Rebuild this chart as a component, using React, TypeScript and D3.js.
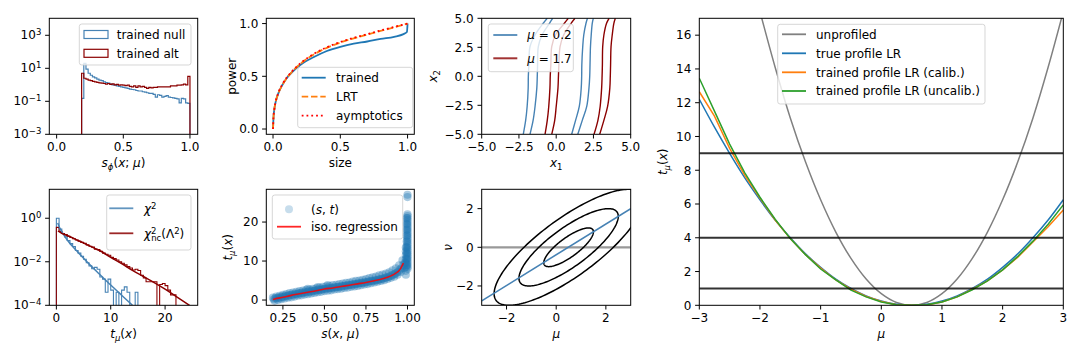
import React from "react";
import * as d3 from "d3";

const FONT = "'DejaVu Sans', sans-serif";
const W = 1080;
const H = 360;

// ---------- data ----------
// panel 1: classifier output histograms (50 bins from 0.1875 to 1.0)
const sBinStart = 0.1875;
const sBinWidth = 0.01625;
const nullCounts = [0.15, 20, 9, 5, 3.8, 3.0, 2.6, 2.2, 1.9, 1.8, 1.5, 1.35, 1.25, 1.1, 1.0, 0.95, 0.85, 0.8, 0.75, 0.7, 0.65, 0.6, 0.55, 0.52, 0.5, 0.45, 0.42, 0.42, 0.38, 0.36, 0.33, 0.3, 0.3, 0.26, 0.18, 0.25, 0.23, 0.18, 0.2, 0.22, 0.18, 0.17, 0.16, 0.15, 0.14, 0.08, 0.15, 0.14, 0.08, 0.075];
const altCounts = [5.0, 2.5, 2.2, 1.9, 1.8, 1.6, 1.5, 1.4, 1.3, 1.25, 1.2, 1.1, 1.2, 1.05, 1.15, 1.0, 1.05, 0.95, 1.0, 0.95, 0.9, 0.95, 0.8, 0.75, 0.85, 0.7, 0.85, 0.75, 0.8, 0.7, 0.6, 0.7, 0.65, 0.7, 0.7, 0.75, 0.75, 0.75, 0.75, 0.75, 0.75, 0.85, 0.85, 0.85, 0.95, 0.95, 1.0, 1.1, 1.0, 3.2];

// panel 2: power vs size
const sizeTrained = [0, 0.003, 0.01, 0.02, 0.04, 0.07, 0.1, 0.15, 0.2, 0.3, 0.4, 0.5, 0.6, 0.7, 0.8, 0.9, 0.97, 0.995, 1.0];
const powerTrained = [0, 0.1, 0.19, 0.26, 0.34, 0.42, 0.48, 0.55, 0.605, 0.68, 0.74, 0.78, 0.81, 0.83, 0.855, 0.875, 0.9, 0.92, 1.0];
const sizeLRT = [0, 0.003, 0.01, 0.02, 0.04, 0.07, 0.1, 0.15, 0.2, 0.3, 0.4, 0.5, 0.6, 0.7, 0.8, 0.9, 1.0];
const powerLRT = [0, 0.1, 0.19, 0.26, 0.34, 0.42, 0.48, 0.555, 0.615, 0.705, 0.77, 0.82, 0.86, 0.895, 0.93, 0.965, 1.0];
const powerAsym = [0, 0.1, 0.19, 0.26, 0.345, 0.425, 0.485, 0.56, 0.62, 0.71, 0.775, 0.825, 0.865, 0.9, 0.935, 0.968, 1.0];

// panel 3: decision contours in (x1, x2)
const contourY = [-5, -3.8, -2.6, -1.0, 0, 1.0, 2.55, 3.56, 4.57, 5];
const contoursLow = [
  [-2.21, -2.05, -1.95, -1.88, -1.87, -1.83, -1.76, -1.42, -0.87, -0.6],
  [-1.76, -1.55, -1.42, -1.3, -1.27, -1.25, -1.2, -0.95, -0.45, -0.24],
  [1.04, 1.3, 1.55, 1.68, 1.71, 1.72, 1.78, 1.85, 2.0, 2.1],
  [1.45, 1.75, 2.05, 2.2, 2.25, 2.27, 2.3, 2.35, 2.42, 2.49],
];
const contoursHigh = [
  [-0.75, -0.6, -0.5, -0.42, -0.4, -0.36, -0.3, -0.05, 0.55, 0.81],
  [-0.3, -0.1, 0.0, 0.12, 0.15, 0.18, 0.26, 0.5, 1.0, 1.26],
  [2.54, 2.8, 2.95, 3.05, 3.08, 3.1, 3.12, 3.2, 3.38, 3.55],
  [2.92, 3.2, 3.45, 3.6, 3.63, 3.65, 3.68, 3.76, 3.87, 3.97],
];

// panel 4: test statistic histograms (0.5 wide bins from 0) and densities
const tBinWidth = 0.5;
const chiHist = [1.0, 0.32, 0.2, 0.14, 0.095, 0.068, 0.05, 0.033, 0.025, 0.018, 0.013, 0.009, 0.0065, 0.0048, 0.0055, 0.0045, 0.002, 0.0016, 0.0004, 0.0016, 0.0005, 0, 0.0004, 0, 0.0005, 0.0007, 0.0004, 0, 0, 0.0004];
const ncHist = [0.38, 0.25, 0.2, 0.18, 0.15, 0.13, 0.115, 0.1, 0.088, 0.078, 0.07, 0.06, 0.052, 0.047, 0.038, 0.036, 0.03, 0.025, 0.022, 0.02, 0.016, 0.014, 0.012, 0.01, 0.0085, 0.0072, 0.006, 0.0052, 0.0042, 0.0045, 0.004, 0.0024, 0.0018, 0.0012, 0.0012, 0.0012, 0.0012, 0, 0.0009, 0.001, 0.0008, 0.0005, 0.0003, 0.0003];
const chiT = [0.25, 0.5, 1, 2, 4, 6, 8, 10, 12, 14];
const chiPdf = [0.6, 0.42, 0.24, 0.1, 0.027, 0.008, 0.0026, 0.00085, 0.00029, 0.0001];
const ncT = [0.3, 1, 2, 4, 6, 8, 10, 12, 14, 16, 18, 20, 22, 24.5];
const ncPdf = [0.26, 0.2, 0.16, 0.095, 0.055, 0.032, 0.016, 0.0082, 0.004, 0.0021, 0.0011, 0.00055, 0.00026, 0.0001];

// panel 5: (s, t) pairs and isotonic regression
const scatterS = [
  0.19, 0.21, 0.23, 0.25, 0.27, 0.29, 0.31, 0.33, 0.35, 0.37, 0.39, 0.41, 0.43, 0.45, 0.47, 0.49, 0.51, 0.53, 0.55, 0.57, 0.59, 0.61, 0.63, 0.65, 0.67, 0.69, 0.71, 0.73, 0.75, 0.77, 0.79, 0.81, 0.83, 0.85, 0.87, 0.89, 0.91, 0.93, 0.95, 0.97,
  0.20, 0.22, 0.24, 0.26, 0.28, 0.30, 0.32, 0.34, 0.36, 0.38, 0.40, 0.42, 0.44, 0.46, 0.48, 0.50, 0.52, 0.54, 0.56, 0.58, 0.60, 0.62, 0.64, 0.66, 0.68, 0.70, 0.72, 0.74, 0.76, 0.78, 0.80, 0.82, 0.84, 0.86, 0.88, 0.90, 0.92, 0.94, 0.96, 0.98,
  0.195, 0.215, 0.235, 0.255, 0.275, 0.295, 0.315, 0.335, 0.355, 0.375, 0.395, 0.415, 0.435, 0.455, 0.475, 0.495, 0.515, 0.535, 0.555, 0.575, 0.595, 0.615, 0.635, 0.655, 0.675, 0.695, 0.715, 0.735, 0.755, 0.775, 0.795, 0.815, 0.835, 0.855, 0.875, 0.895, 0.915, 0.935, 0.955, 0.975,
  0.205, 0.225, 0.245, 0.265, 0.285, 0.305, 0.325, 0.345, 0.365, 0.385, 0.405, 0.425, 0.445, 0.465, 0.485, 0.505, 0.525, 0.545, 0.565, 0.585, 0.605, 0.625, 0.645, 0.665, 0.685, 0.705, 0.725, 0.745, 0.765, 0.785, 0.805, 0.825, 0.845, 0.865, 0.885, 0.905, 0.925, 0.945, 0.965, 0.985,
  0.99, 0.99, 0.99, 0.99, 0.99, 0.99, 0.99, 0.99,
  0.995, 0.995, 0.995, 0.995, 0.995, 0.995, 0.995, 0.995, 0.995,
  1.0, 1.0, 1.0, 1.0, 1.0, 1.0, 1.0, 1.0, 1.0, 1.0, 1.0, 1.0, 1.0, 1.0, 1.0, 1.0, 1.0,
  1.0, 1.0, 1.0, 1.0, 1.0, 1.0, 1.0, 1.0, 1.0, 1.0, 1.0, 1.0, 1.0, 1.0,
  0.4, 0.52, 0.46,
];
const scatterT = [
  0.6, 0.9, 1.1, 1.3, 1.5, 1.8, 1.9, 2.1, 2.3, 2.4, 2.6, 2.7, 2.9, 3.0, 3.2, 3.4, 3.5, 3.6, 3.8, 3.9, 4.1, 4.2, 4.4, 4.5, 4.7, 4.9, 5.0, 5.2, 5.4, 5.6, 5.8, 6.0, 6.3, 6.5, 6.8, 7.1, 7.6, 8.1, 8.9, 10.2,
  -0.2, 0.0, 0.2, 0.4, 0.6, 0.7, 0.9, 1.1, 1.2, 1.4, 1.5, 1.7, 1.8, 2.0, 2.1, 2.3, 2.4, 2.5, 2.7, 2.8, 2.9, 3.1, 3.2, 3.4, 3.5, 3.6, 3.8, 4.0, 4.1, 4.3, 4.5, 4.7, 4.9, 5.1, 5.4, 5.7, 6.0, 6.5, 7.2, 8.2,
  0.2, 0.45, 0.6, 0.8, 1.0, 1.2, 1.35, 1.5, 1.7, 1.85, 2.0, 2.1, 2.3, 2.45, 2.6, 2.8, 2.9, 3.0, 3.15, 3.3, 3.4, 3.55, 3.7, 3.85, 4.0, 4.15, 4.3, 4.45, 4.6, 4.8, 4.95, 5.1, 5.3, 5.5, 5.8, 6.1, 6.5, 7.0, 7.8, 9.0,
  0.5, 0.65, 0.85, 1.05, 1.25, 1.4, 1.6, 1.75, 1.9, 2.05, 2.2, 2.35, 2.5, 2.65, 2.75, 2.9, 3.05, 3.15, 3.3, 3.4, 3.55, 3.7, 3.85, 3.95, 4.1, 4.25, 4.4, 4.55, 4.75, 4.9, 5.05, 5.25, 5.45, 5.7, 5.95, 6.3, 6.7, 7.3, 8.2, 9.6,
  6.5, 7.5, 8.5, 9.5, 10.5, 11.5, 12.5, 13.5,
  9, 10.5, 12, 13.5, 15, 16.5, 18, 19.5, 21,
  8, 9, 10, 11, 12, 13, 14, 15, 16, 17, 18, 19, 20, 21, 22, 26.4, 27.0,
  8.5, 9.5, 10.5, 11.5, 12.5, 13.5, 14.5, 15.5, 16.5, 17.5, 18.5, 19.5, 20.5, 21.5,
  2.9, 3.8, 3.3,
];
const isoS = [0.19, 0.2, 0.25, 0.3, 0.35, 0.4, 0.45, 0.5, 0.55, 0.6, 0.65, 0.7, 0.75, 0.8, 0.85, 0.9, 0.93, 0.95, 0.96, 0.97, 0.975];
const isoT = [0.1, 0.25, 0.7, 1.2, 1.6, 2.0, 2.4, 2.85, 3.1, 3.45, 3.8, 4.15, 4.5, 4.95, 5.45, 6.2, 6.9, 7.6, 8.2, 9.0, 9.5];

// panel 6: likelihood contours in (mu, nu)
const fitCenter = [0.5, 0];
const fitCov = [1, 0.8, 1]; // var mu, cov, var nu
const contourLevels = [1, 4, 9];
const nuHatMu = [-3, 3];
const nuHat = [-2.77, 2.0];

// panel 7: profile likelihood ratio scans
const scanMu = [-3, -2.75, -2.5, -2.25, -2, -1.75, -1.5, -1.25, -1, -0.75, -0.5, -0.25, 0, 0.25, 0.5, 0.75, 1, 1.25, 1.5, 1.75, 2, 2.25, 2.5, 2.75, 3];
const trueProfile = [12.2, 10.55, 9.0, 7.55, 6.25, 5.05, 4.0, 3.05, 2.25, 1.55, 1.0, 0.56, 0.25, 0.06, 0.0, 0.06, 0.25, 0.56, 1.0, 1.55, 2.25, 3.05, 4.0, 5.05, 6.25];
const calibProfile = [12.65, 11.2, 9.3, 7.7, 6.35, 5.05, 3.95, 3.0, 2.2, 1.5, 0.95, 0.52, 0.22, 0.03, 0.0, 0.02, 0.2, 0.5, 0.95, 1.45, 2.1, 2.85, 3.75, 4.65, 5.65];
const uncalibProfile = [13.45, 11.5, 9.55, 7.85, 6.4, 5.1, 3.95, 3.0, 2.15, 1.5, 0.9, 0.5, 0.2, 0.03, 0.0, 0.03, 0.2, 0.5, 0.92, 1.45, 2.1, 2.9, 3.8, 4.8, 5.95];
const unprofMu = [-2.0, -1.75, -1.5, -1.25, -1, -0.75, -0.5, -0.25, 0, 0.25, 0.5, 0.75, 1, 1.25, 1.5, 1.75, 2, 2.25, 2.5, 2.75, 3];
const unprofiled = [17.4, 14.1, 11.1, 8.5, 6.25, 4.34, 2.78, 1.56, 0.69, 0.17, 0, 0.17, 0.69, 1.56, 2.78, 4.34, 6.25, 8.5, 11.1, 14.1, 17.4];
const thresholds = [1, 4, 9];

// ---------- layout ----------
const cols = [[49.3, 197.7], [266.3, 414.3], [481.7, 630.7]];
const rows = [[18.3, 134.3], [189.3, 305.3]];
const big = [699.3, 1063.3];

const BLUE = "steelblue";
const DRED = "darkred";

const it = (s: string) => <tspan fontStyle="italic">{s}</tspan>;
const sup = (s: React.ReactNode) => <tspan baselineShift={4.5} fontSize={8.5}>{s}</tspan>;
const sub = (s: React.ReactNode, italic = true) => (
  <tspan baselineShift={-2.8} fontSize={8.5} fontStyle={italic ? "italic" : "normal"}>{s}</tspan>
);
const pow10 = (e: string) => <>10{sup(e)}</>;

type Tick = [number, React.ReactNode];

function Axes(props: any) {
  const { id, x0, x1, y0, y1, xs, ys, xTicks, yTicks, xLabel, yLabel, yLabelOff, yTickDy } = props;
  return (
    <g>
      <clipPath id={id}>
        <rect x={x0} y={y0} width={x1 - x0} height={y1 - y0} />
      </clipPath>
      <g clipPath={`url(#${id})`}>{props.children}</g>
      <rect x={x0} y={y0} width={x1 - x0} height={y1 - y0} fill="none" stroke="#000" strokeWidth={1} />
      {(xTicks as Tick[]).map(([v, lab], i) => {
        const x = xs(v);
        return (
          <g key={"x" + i}>
            <line x1={x} x2={x} y1={y1} y2={y1 + 4.2} stroke="#000" />
            <text x={x} y={y1 + 17} textAnchor="middle">{lab}</text>
          </g>
        );
      })}
      {(yTicks as Tick[]).map(([v, lab], i) => {
        const y = ys(v);
        return (
          <g key={"y" + i}>
            <line x1={x0 - 4.2} x2={x0} y1={y} y2={y} stroke="#000" />
            <text x={x0 - 8} y={y + (yTickDy ?? 4.3)} textAnchor="end">{lab}</text>
          </g>
        );
      })}
      {xLabel && (
        <text x={(x0 + x1) / 2} y={y1 + 33} textAnchor="middle">{xLabel}</text>
      )}
      {yLabel && (
        <text transform={`translate(${x0 - yLabelOff},${(y0 + y1) / 2}) rotate(-90)`} textAnchor="middle">
          {yLabel}
        </text>
      )}
      {props.overlay}
    </g>
  );
}

type Item = { kind: "line" | "patch" | "dot"; color: string; dash?: string; width?: number; opacity?: number; label: React.ReactNode; y: number };

function Legend({ x, y, w, h, lx, tx, items }: { x: number; y: number; w: number; h: number; lx: number; tx: number; items: Item[] }) {
  return (
    <g>
      <rect x={x} y={y} width={w} height={h} rx={2.5} fill="#fff" fillOpacity={0.8} stroke="#cccccc" strokeOpacity={0.8} />
      {items.map((d, i) => (
        <g key={i}>
          {d.kind === "line" && (
            <line x1={lx} x2={lx + 24} y1={d.y} y2={d.y} stroke={d.color} strokeWidth={d.width ?? 1.8} strokeDasharray={d.dash} strokeOpacity={d.opacity ?? 1} />
          )}
          {d.kind === "patch" && <rect x={lx} y={d.y - 4} width={24} height={8} fill="none" stroke={d.color} strokeWidth={1.2} />}
          {d.kind === "dot" && <circle cx={lx + 12} cy={d.y} r={4} fill="#1f77b4" fillOpacity={0.25} />}
          <text x={tx} y={d.y + 4.4}>{d.label}</text>
        </g>
      ))}
    </g>
  );
}

function stepPath(start: number, width: number, vals: number[], xs: any, ys: any, floor: number) {
  const pts: [number, number][] = [[start, floor]];
  vals.forEach((v, i) => {
    const y = v > floor ? v : floor;
    pts.push([start + i * width, y], [start + (i + 1) * width, y]);
  });
  pts.push([start + vals.length * width, floor]);
  return d3.line().x((d) => xs(d[0])).y((d) => ys(d[1]))(pts) as string;
}

function Panel1() {
  const [x0, x1] = cols[0];
  const [y0, y1] = rows[0];
  const xs = d3.scaleLinear().domain([-0.055, 1.058]).range([x0, x1]);
  const ys = d3.scaleLog().domain([1e-3, Math.pow(10, 4.03)]).range([y1, y0]);
  return (
    <Axes id="c1" x0={x0} x1={x1} y0={y0} y1={y1} xs={xs} ys={ys}
      xTicks={[[0, "0.0"], [0.5, "0.5"], [1, "1.0"]]}
      yTicks={[[1e-3, pow10("−3")], [1e-1, pow10("−1")], [10, pow10("1")], [1e3, pow10("3")]]}
      yTickDy={3.8}
      xLabel={<>{it("s")}{sub("ϕ")}({it("x")}; {it("μ")})</>}
      overlay={
        <Legend x={79.3} y={24} w={111.7} h={41} lx={84} tx={116.7}
          items={[
            { kind: "patch", color: BLUE, label: "trained null", y: 34.5 },
            { kind: "patch", color: DRED, label: "trained alt", y: 53.3 },
          ]} />
      }>
      <path d={stepPath(sBinStart, sBinWidth, nullCounts, xs, ys, 1e-3)} fill="none" stroke={BLUE} strokeWidth={1.2} />
      <path d={stepPath(sBinStart, sBinWidth, altCounts, xs, ys, 1e-3)} fill="none" stroke={DRED} strokeWidth={1.2} />
    </Axes>
  );
}

function Panel2() {
  const [x0, x1] = cols[1];
  const [y0, y1] = rows[0];
  const xs = d3.scaleLinear().domain([-0.05, 1.05]).range([x0, x1]);
  const ys = d3.scaleLinear().domain([-0.05, 1.05]).range([y1, y0]);
  const mk = (xa: number[], ya: number[]) =>
    d3.line<number>().x((_, i) => xs(xa[i])).y((d) => ys(d)).curve(d3.curveMonotoneX)(ya) as string;
  return (
    <Axes id="c2" x0={x0} x1={x1} y0={y0} y1={y1} xs={xs} ys={ys}
      xTicks={[[0, "0.0"], [0.5, "0.5"], [1, "1.0"]]}
      yTicks={[[0, "0.0"], [0.5, "0.5"], [1, "1.0"]]}
      xLabel="size" yLabel="power" yLabelOff={30.6}
      overlay={
        <Legend x={297.7} y={67.3} w={115} h={60.4} lx={301.7} tx={336}
          items={[
            { kind: "line", color: "#1f77b4", label: "trained", y: 77.7 },
            { kind: "line", color: "#ff7f0e", dash: "6.5,2.8", label: "LRT", y: 96.7 },
            { kind: "line", color: "red", dash: "1.8,3", label: "aymptotics", y: 115.7 },
          ]} />
      }>
      <path d={mk(sizeTrained, powerTrained)} fill="none" stroke="#1f77b4" strokeWidth={1.8} />
      <path d={mk(sizeLRT, powerLRT)} fill="none" stroke="#ff7f0e" strokeWidth={1.8} strokeDasharray="6.5,2.8" />
      <path d={mk(sizeLRT, powerAsym)} fill="none" stroke="red" strokeWidth={1.8} strokeDasharray="1.8,3" />
    </Axes>
  );
}

function Panel3() {
  const [x0, x1] = cols[2];
  const [y0, y1] = rows[0];
  const xs = d3.scaleLinear().domain([-5, 5]).range([x0, x1]);
  const ys = d3.scaleLinear().domain([-5, 5]).range([y1, y0]);
  const mk = (xa: number[]) =>
    d3.line<number>().x((d) => xs(d)).y((_, i) => ys(contourY[i])).curve(d3.curveCatmullRom)(xa) as string;
  const ticks: Tick[] = [[-5, "−5.0"], [-2.5, "−2.5"], [0, "0.0"], [2.5, "2.5"], [5, "5.0"]];
  return (
    <Axes id="c3" x0={x0} x1={x1} y0={y0} y1={y1} xs={xs} ys={ys}
      xTicks={ticks} yTicks={ticks}
      xLabel={<>{it("x")}{sub("1", false)}</>} yLabel={<>{it("x")}{sub("2", false)}</>} yLabelOff={44.7}
      overlay={
        <Legend x={488.3} y={24} w={85} h={47.7} lx={493.3} tx={527.3}
          items={[
            { kind: "line", color: BLUE, opacity: 0.85, width: 2, label: <>{it("μ")} = 0.2</>, y: 35 },
            { kind: "line", color: DRED, opacity: 0.8, width: 2, label: <>{it("μ")} = 1.7</>, y: 58.3 },
          ]} />
      }>
      {contoursLow.map((c, i) => (
        <path key={"b" + i} d={mk(c)} fill="none" stroke={BLUE} strokeWidth={1.4} />
      ))}
      {contoursHigh.map((c, i) => (
        <path key={"r" + i} d={mk(c)} fill="none" stroke={DRED} strokeWidth={1.4} />
      ))}
    </Axes>
  );
}

function Panel4() {
  const [x0, x1] = cols[0];
  const [y0, y1] = rows[1];
  const xs = d3.scaleLinear().domain([-1.3, 26.0]).range([x0, x1]);
  const ys = d3.scaleLog().domain([1e-4, Math.pow(10, 1.33)]).range([y1, y0]);
  const mk = (xa: number[], ya: number[]) =>
    d3.line<number>().x((_, i) => xs(xa[i])).y((d) => ys(d)).curve(d3.curveMonotoneX)(ya) as string;
  return (
    <Axes id="c4" x0={x0} x1={x1} y0={y0} y1={y1} xs={xs} ys={ys}
      xTicks={[[0, "0"], [10, "10"], [20, "20"]]}
      yTicks={[[1e-4, pow10("−4")], [1e-2, pow10("−2")], [1, pow10("0")]]}
      yTickDy={3.8}
      xLabel={<>{it("t")}{sub("μ")}({it("x")})</>}
      overlay={
        <Legend x={106.7} y={195} w={84.3} h={55} lx={109.3} tx={144}
          items={[
            { kind: "line", color: BLUE, opacity: 0.85, label: <>{it("χ")}{sup("2")}</>, y: 208.3 },
            { kind: "line", color: DRED, opacity: 0.85, label: <>{it("χ")}{sup("2")}<tspan dx={-5.3} baselineShift={-3} fontSize={8.5}>nc</tspan>(Λ{sup("2")})</>, y: 233.3 },
          ]} />
      }>
      <path d={stepPath(0, tBinWidth, chiHist, xs, ys, 1e-5)} fill="none" stroke={BLUE} strokeWidth={1.1} />
      <path d={stepPath(0, tBinWidth, ncHist, xs, ys, 1e-5)} fill="none" stroke={DRED} strokeWidth={1.1} />
      <path d={mk(chiT, chiPdf)} fill="none" stroke={BLUE} strokeWidth={1.5} />
      <path d={mk(ncT, ncPdf)} fill="none" stroke={DRED} strokeWidth={1.5} />
    </Axes>
  );
}

function Panel5() {
  const [x0, x1] = cols[1];
  const [y0, y1] = rows[1];
  const xs = d3.scaleLinear().domain([0.15, 1.041]).range([x0, x1]);
  const ys = d3.scaleLinear().domain([-1.35, 28.4]).range([y1, y0]);
  const iso = d3.line<number>().x((_, i) => xs(isoS[i])).y((d) => ys(d)).curve(d3.curveMonotoneX)(isoT) as string;
  return (
    <Axes id="c5" x0={x0} x1={x1} y0={y0} y1={y1} xs={xs} ys={ys}
      xTicks={[[0.25, "0.25"], [0.5, "0.50"], [0.75, "0.75"], [1, "1.00"]]}
      yTicks={[[0, "0"], [10, "10"], [20, "20"]]}
      xLabel={<>{it("s")}({it("x")}, {it("μ")})</>}
      yLabel={<>{it("t")}{sub("μ")}({it("x")})</>} yLabelOff={34.3}
      overlay={
        <Legend x={272.3} y={195} w={130.4} h={44} lx={277} tx={311}
          items={[
            { kind: "dot", color: "#1f77b4", label: <>({it("s")}, {it("t")})</>, y: 209.3 },
            { kind: "line", color: "red", opacity: 0.85, label: "iso. regression", y: 226.7 },
          ]} />
      }>
      {scatterS.map((s, i) => (
        <circle key={i} cx={xs(s)} cy={ys(scatterT[i])} r={4.1} fill="#1f77b4" fillOpacity={0.38} />
      ))}
      <path d={iso} fill="none" stroke="red" strokeOpacity={0.85} strokeWidth={1.6} />
    </Axes>
  );
}

function Panel6() {
  const [x0, x1] = cols[2];
  const [y0, y1] = rows[1];
  const xs = d3.scaleLinear().domain([-3, 3]).range([x0, x1]);
  const ys = d3.scaleLinear().domain([-3, 3]).range([y1, y0]);
  const [va, c, vb] = fitCov;
  const l11 = Math.sqrt(va);
  const l21 = c / l11;
  const l22 = Math.sqrt(vb - l21 * l21);
  const angles = d3.range(0, 2 * Math.PI + 0.01, Math.PI / 90);
  const ell = (k: number) =>
    d3.line<number>()
      .x((a) => xs(fitCenter[0] + Math.sqrt(k) * l11 * Math.cos(a)))
      .y((a) => ys(fitCenter[1] + Math.sqrt(k) * (l21 * Math.cos(a) + l22 * Math.sin(a))))(angles) as string;
  const ticks: Tick[] = [[-2, "−2"], [0, "0"], [2, "2"]];
  return (
    <Axes id="c6" x0={x0} x1={x1} y0={y0} y1={y1} xs={xs} ys={ys}
      xTicks={ticks} yTicks={ticks}
      xLabel={it("μ")} yLabel={it("ν")} yLabelOff={29.7}>
      <line x1={x0} x2={x1} y1={ys(0)} y2={ys(0)} stroke="#999" strokeWidth={2.2} />
      {contourLevels.map((k) => (
        <path key={k} d={ell(k)} fill="none" stroke="#000" strokeWidth={1.5} />
      ))}
      <line x1={xs(nuHatMu[0])} x2={xs(nuHatMu[1])} y1={ys(nuHat[0])} y2={ys(nuHat[1])} stroke={BLUE} strokeWidth={1.6} />
    </Axes>
  );
}

function Panel7() {
  const [x0, x1] = big;
  const y0 = rows[0][0];
  const y1 = rows[1][1];
  const xs = d3.scaleLinear().domain([-3, 3]).range([x0, x1]);
  const ys = d3.scaleLinear().domain([0, 17]).range([y1, y0]);
  const mk = (xa: number[], ya: number[], curve: any) =>
    d3.line<number>().x((_, i) => xs(xa[i])).y((d) => ys(d)).curve(curve)(ya) as string;
  return (
    <Axes id="c7" x0={x0} x1={x1} y0={y0} y1={y1} xs={xs} ys={ys}
      xTicks={[[-3, "−3"], [-2, "−2"], [-1, "−1"], [0, "0"], [1, "1"], [2, "2"], [3, "3"]]}
      yTicks={d3.range(0, 17, 2).map((v) => [v, String(v)] as Tick)}
      xLabel={it("μ")} yLabel={<>{it("t")}{sub("μ")}({it("x")})</>} yLabelOff={32.8}
      overlay={
        <Legend x={777.7} y={24.3} w={207.3} h={79.7} lx={782} tx={816}
          items={[
            { kind: "line", color: "grey", label: "unprofiled", y: 34.3 },
            { kind: "line", color: "#1f77b4", label: "true profile LR", y: 53.3 },
            { kind: "line", color: "#ff7f0e", label: "trained profile LR (calib.)", y: 72.3 },
            { kind: "line", color: "#2ca02c", label: "trained profile LR (uncalib.)", y: 91 },
          ]} />
      }>
      <path d={mk(unprofMu, unprofiled, d3.curveCatmullRom)} fill="none" stroke="grey" strokeWidth={1.5} />
      <path d={mk(scanMu, trueProfile, d3.curveCatmullRom)} fill="none" stroke="#1f77b4" strokeWidth={1.5} />
      <path d={mk(scanMu, calibProfile, d3.curveLinear)} fill="none" stroke="#ff7f0e" strokeWidth={1.5} />
      <path d={mk(scanMu, uncalibProfile, d3.curveLinear)} fill="none" stroke="#2ca02c" strokeWidth={1.5} />
      {thresholds.map((v) => (
        <line key={v} x1={x0} x2={x1} y1={ys(v)} y2={ys(v)} stroke="#000" strokeOpacity={0.8} strokeWidth={2} />
      ))}
    </Axes>
  );
}

export default function App() {
  return (
    <svg width={W} height={H} style={{ position: "absolute", left: 0, top: 0 }} fontFamily={FONT} fontSize={12} fill="#000">
      <rect width={W} height={H} fill="#fff" />
      <Panel1 />
      <Panel2 />
      <Panel3 />
      <Panel4 />
      <Panel5 />
      <Panel6 />
      <Panel7 />
    </svg>
  );
}
